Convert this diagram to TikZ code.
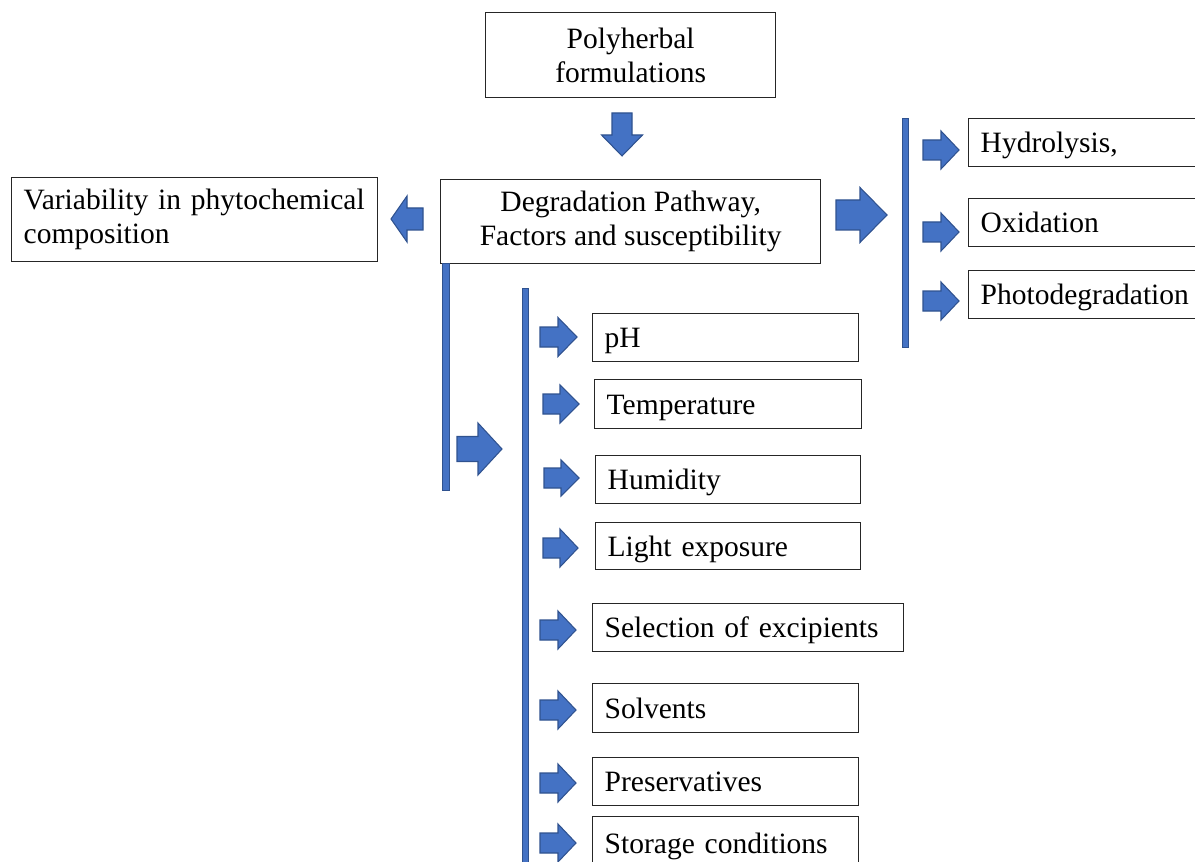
\documentclass[tikz,border=0pt]{standalone}
\usepackage{fontspec}
\setmainfont{Liberation Serif}
\definecolor{arrowblue}{HTML}{4472C4}
\definecolor{arrowedge}{HTML}{2F528F}
\newcommand{\boxfont}{\fontsize{16.8}{19.4}\selectfont}
% block arrow: tail centre (#1,#2), angle #3, length #4, head length #5, shaft width #6, head width #7
\newcommand{\blockarrow}[7]{%
  \filldraw[blockarrow, shift={(#1,#2)}, rotate=#3]
    (0,{#6/2}) -- ({#4-#5},{#6/2}) -- ({#4-#5},{#7/2}) -- (#4,0)
    -- ({#4-#5},{-#7/2}) -- ({#4-#5},{-#6/2}) -- (0,{-#6/2}) -- cycle;}
\tikzset{
  blockarrow/.style={fill=arrowblue, draw=arrowedge, line width=0.6pt},
  bar/.style={fill=arrowblue, draw=arrowedge, line width=0.5pt},
  box/.style={draw=black!85, line width=0.8pt, rectangle, inner sep=0pt,
    anchor=north west, font=\boxfont},
  cbox/.style={box, align=center},
  lbox/.style={box, align=left, inner xsep=0.24cm},
  item/.style={lbox, text height=0.5cm, text depth=0.1cm}
}
\begin{document}
\begin{tikzpicture}[x=0.02cm, y=-0.02cm]
  \useasboundingbox (0,0) rectangle (1195,861);
  \clip (0,0) rectangle (1195,861);
  % top and middle row
  \node[cbox, minimum width=5.8cm, minimum height=1.7cm] (poly) at (485,12)
    {Polyherbal\\formulations};
  \node[cbox, minimum width=7.6cm, minimum height=1.68cm] (degr) at (440,179)
    {Degradation Pathway,\\Factors and susceptibility};
  \node[lbox, text width=6.84cm, minimum height=1.68cm] (vari) at (11,177)
    {Variability in phytochemical\\composition};
  % pathways
  \node[item, text width=4.36cm, minimum height=0.96cm] (hydro) at (968,118) {Hydrolysis,};
  \node[item, text width=4.36cm, minimum height=0.96cm] (oxid) at (968,198) {Oxidation};
  \node[item, text width=4.36cm, minimum height=0.96cm] (photo) at (968,270) {Photodegradation};
  % factors
  \node[item, text width=4.84cm, minimum height=0.96cm] (ph) at (592,313) {pH};
  \node[item, text width=4.86cm, minimum height=0.98cm] (temp) at (594,379) {Temperature};
  \node[item, text width=4.82cm, minimum height=0.96cm] (humid) at (595,455) {Humidity};
  \node[item, text width=4.82cm, minimum height=0.94cm] (light) at (595,522) {Light exposure};
  \node[item, text width=5.74cm, minimum height=0.96cm] (excip) at (592,603) {Selection of excipients};
  \node[item, text width=4.84cm, minimum height=0.98cm] (solv) at (592,683) {Solvents};
  \node[item, text width=4.84cm, minimum height=0.96cm] (pres) at (592,757) {Preservatives};
  \node[item, text width=4.84cm, minimum height=1.08cm] (store) at (592,816) {Storage conditions};
  % bars
  \filldraw[bar] (442,263) rectangle (449,490);
  \filldraw[bar] (522,288) rectangle (528,880);
  \filldraw[bar] (902,118) rectangle (908,347);
  % arrows
  \blockarrow{622}{113}{-90}{43}{21}{20}{41}
  \blockarrow{423}{219}{180}{32}{16}{22}{46}
  \blockarrow{836}{215}{0}{51}{27}{30}{55}
  \blockarrow{457}{449}{0}{45}{24}{25}{52}
  \blockarrow{923}{150}{0}{36}{18}{20}{38}
  \blockarrow{923}{232}{0}{36}{18}{20}{38}
  \blockarrow{923}{301}{0}{36}{18}{20}{38}
  \blockarrow{540}{337}{0}{37}{19}{20}{39}
  \blockarrow{543}{404}{0}{36}{19}{20}{38}
  \blockarrow{544}{478}{0}{35}{18}{20}{36}
  \blockarrow{543}{548}{0}{35}{18}{20}{38}
  \blockarrow{540}{630}{0}{36}{18}{20}{38}
  \blockarrow{540}{710}{0}{36}{18}{20}{38}
  \blockarrow{540}{783}{0}{36}{18}{20}{38}
  \blockarrow{540}{843}{0}{36}{18}{20}{38}
\end{tikzpicture}
\end{document}
